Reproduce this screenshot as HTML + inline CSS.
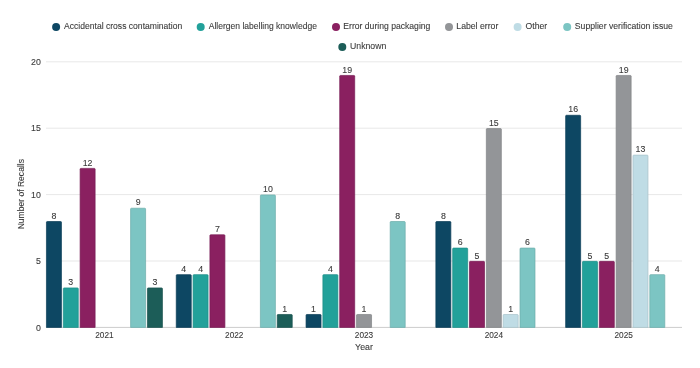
<!DOCTYPE html><html><head><meta charset="utf-8"><style>html,body{margin:0;padding:0;background:#fff;}svg{display:block;will-change:transform;}text{font-family:"Liberation Sans",sans-serif;stroke:#3a3a3a;stroke-width:0.1px;}</style></head><body>
<svg width="700" height="368" viewBox="0 0 700 368">
<rect x="46" y="260.50" width="636" height="1" fill="#e8e8e8"/>
<text x="40.8" y="264.10" font-size="8.8" fill="#3a3a3a" text-anchor="end">5</text>
<rect x="46" y="194.10" width="636" height="1" fill="#e8e8e8"/>
<text x="40.8" y="197.70" font-size="8.8" fill="#3a3a3a" text-anchor="end">10</text>
<rect x="46" y="127.70" width="636" height="1" fill="#e8e8e8"/>
<text x="40.8" y="131.30" font-size="8.8" fill="#3a3a3a" text-anchor="end">15</text>
<rect x="46" y="61.30" width="636" height="1" fill="#e8e8e8"/>
<text x="40.8" y="64.90" font-size="8.8" fill="#3a3a3a" text-anchor="end">20</text>
<text x="40.8" y="330.50" font-size="8.8" fill="#3a3a3a" text-anchor="end">0</text>
<rect x="46" y="326.90" width="636" height="1" fill="#cccccc"/>
<path d="M46.45 327.45V222.31Q46.45 221.51 47.25 221.51H60.65Q61.45 221.51 61.45 222.31V327.45Z" fill="#0d4763" stroke="#0b3e57" stroke-width="0.7"/>
<text x="53.95" y="218.66" font-size="8.8" fill="#3a3a3a" text-anchor="middle">8</text>
<path d="M63.28 327.45V288.71Q63.28 287.91 64.08 287.91H77.48Q78.28 287.91 78.28 288.71V327.45Z" fill="#22a19a" stroke="#1d8d87" stroke-width="0.7"/>
<text x="70.78" y="285.06" font-size="8.8" fill="#3a3a3a" text-anchor="middle">3</text>
<path d="M80.11 327.45V169.19Q80.11 168.39 80.91 168.39H94.31Q95.11 168.39 95.11 169.19V327.45Z" fill="#8a2060" stroke="#791c54" stroke-width="0.7"/>
<text x="87.61" y="165.54" font-size="8.8" fill="#3a3a3a" text-anchor="middle">12</text>
<path d="M130.60 327.45V209.03Q130.60 208.23 131.40 208.23H144.80Q145.60 208.23 145.60 209.03V327.45Z" fill="#7cc5c3" stroke="#6dadab" stroke-width="0.7"/>
<text x="138.10" y="205.38" font-size="8.8" fill="#3a3a3a" text-anchor="middle">9</text>
<path d="M147.43 327.45V288.71Q147.43 287.91 148.23 287.91H161.63Q162.43 287.91 162.43 288.71V327.45Z" fill="#1c5d58" stroke="#18514d" stroke-width="0.7"/>
<text x="154.93" y="285.06" font-size="8.8" fill="#3a3a3a" text-anchor="middle">3</text>
<text x="104.44" y="338.2" font-size="8.8" fill="#3a3a3a" text-anchor="middle" textLength="18.4" lengthAdjust="spacingAndGlyphs">2021</text>
<path d="M176.25 327.45V275.43Q176.25 274.63 177.05 274.63H190.45Q191.25 274.63 191.25 275.43V327.45Z" fill="#0d4763" stroke="#0b3e57" stroke-width="0.7"/>
<text x="183.75" y="271.78" font-size="8.8" fill="#3a3a3a" text-anchor="middle">4</text>
<path d="M193.08 327.45V275.43Q193.08 274.63 193.88 274.63H207.28Q208.08 274.63 208.08 275.43V327.45Z" fill="#22a19a" stroke="#1d8d87" stroke-width="0.7"/>
<text x="200.58" y="271.78" font-size="8.8" fill="#3a3a3a" text-anchor="middle">4</text>
<path d="M209.91 327.45V235.59Q209.91 234.79 210.71 234.79H224.11Q224.91 234.79 224.91 235.59V327.45Z" fill="#8a2060" stroke="#791c54" stroke-width="0.7"/>
<text x="217.41" y="231.94" font-size="8.8" fill="#3a3a3a" text-anchor="middle">7</text>
<path d="M260.40 327.45V195.75Q260.40 194.95 261.20 194.95H274.60Q275.40 194.95 275.40 195.75V327.45Z" fill="#7cc5c3" stroke="#6dadab" stroke-width="0.7"/>
<text x="267.90" y="192.10" font-size="8.8" fill="#3a3a3a" text-anchor="middle">10</text>
<path d="M277.23 327.45V315.27Q277.23 314.47 278.03 314.47H291.43Q292.23 314.47 292.23 315.27V327.45Z" fill="#1c5d58" stroke="#18514d" stroke-width="0.7"/>
<text x="284.73" y="311.62" font-size="8.8" fill="#3a3a3a" text-anchor="middle">1</text>
<text x="234.24" y="338.2" font-size="8.8" fill="#3a3a3a" text-anchor="middle" textLength="18.4" lengthAdjust="spacingAndGlyphs">2022</text>
<path d="M306.05 327.45V315.27Q306.05 314.47 306.85 314.47H320.25Q321.05 314.47 321.05 315.27V327.45Z" fill="#0d4763" stroke="#0b3e57" stroke-width="0.7"/>
<text x="313.55" y="311.62" font-size="8.8" fill="#3a3a3a" text-anchor="middle">1</text>
<path d="M322.88 327.45V275.43Q322.88 274.63 323.68 274.63H337.08Q337.88 274.63 337.88 275.43V327.45Z" fill="#22a19a" stroke="#1d8d87" stroke-width="0.7"/>
<text x="330.38" y="271.78" font-size="8.8" fill="#3a3a3a" text-anchor="middle">4</text>
<path d="M339.71 327.45V76.23Q339.71 75.43 340.51 75.43H353.91Q354.71 75.43 354.71 76.23V327.45Z" fill="#8a2060" stroke="#791c54" stroke-width="0.7"/>
<text x="347.21" y="72.58" font-size="8.8" fill="#3a3a3a" text-anchor="middle">19</text>
<path d="M356.54 327.45V315.27Q356.54 314.47 357.34 314.47H370.74Q371.54 314.47 371.54 315.27V327.45Z" fill="#939598" stroke="#818385" stroke-width="0.7"/>
<text x="364.04" y="311.62" font-size="8.8" fill="#3a3a3a" text-anchor="middle">1</text>
<path d="M390.20 327.45V222.31Q390.20 221.51 391.00 221.51H404.40Q405.20 221.51 405.20 222.31V327.45Z" fill="#7cc5c3" stroke="#6dadab" stroke-width="0.7"/>
<text x="397.70" y="218.66" font-size="8.8" fill="#3a3a3a" text-anchor="middle">8</text>
<text x="364.04" y="338.2" font-size="8.8" fill="#3a3a3a" text-anchor="middle" textLength="18.4" lengthAdjust="spacingAndGlyphs">2023</text>
<path d="M435.85 327.45V222.31Q435.85 221.51 436.65 221.51H450.05Q450.85 221.51 450.85 222.31V327.45Z" fill="#0d4763" stroke="#0b3e57" stroke-width="0.7"/>
<text x="443.35" y="218.66" font-size="8.8" fill="#3a3a3a" text-anchor="middle">8</text>
<path d="M452.68 327.45V248.87Q452.68 248.07 453.48 248.07H466.88Q467.68 248.07 467.68 248.87V327.45Z" fill="#22a19a" stroke="#1d8d87" stroke-width="0.7"/>
<text x="460.18" y="245.22" font-size="8.8" fill="#3a3a3a" text-anchor="middle">6</text>
<path d="M469.51 327.45V262.15Q469.51 261.35 470.31 261.35H483.71Q484.51 261.35 484.51 262.15V327.45Z" fill="#8a2060" stroke="#791c54" stroke-width="0.7"/>
<text x="477.01" y="258.50" font-size="8.8" fill="#3a3a3a" text-anchor="middle">5</text>
<path d="M486.34 327.45V129.35Q486.34 128.55 487.14 128.55H500.54Q501.34 128.55 501.34 129.35V327.45Z" fill="#939598" stroke="#818385" stroke-width="0.7"/>
<text x="493.84" y="125.70" font-size="8.8" fill="#3a3a3a" text-anchor="middle">15</text>
<path d="M503.17 327.45V315.27Q503.17 314.47 503.97 314.47H517.37Q518.17 314.47 518.17 315.27V327.45Z" fill="#bfdce5" stroke="#a8c1c9" stroke-width="0.7"/>
<text x="510.67" y="311.62" font-size="8.8" fill="#3a3a3a" text-anchor="middle">1</text>
<path d="M520.00 327.45V248.87Q520.00 248.07 520.80 248.07H534.20Q535.00 248.07 535.00 248.87V327.45Z" fill="#7cc5c3" stroke="#6dadab" stroke-width="0.7"/>
<text x="527.50" y="245.22" font-size="8.8" fill="#3a3a3a" text-anchor="middle">6</text>
<text x="493.84" y="338.2" font-size="8.8" fill="#3a3a3a" text-anchor="middle" textLength="18.4" lengthAdjust="spacingAndGlyphs">2024</text>
<path d="M565.65 327.45V116.07Q565.65 115.27 566.45 115.27H579.85Q580.65 115.27 580.65 116.07V327.45Z" fill="#0d4763" stroke="#0b3e57" stroke-width="0.7"/>
<text x="573.15" y="112.42" font-size="8.8" fill="#3a3a3a" text-anchor="middle">16</text>
<path d="M582.48 327.45V262.15Q582.48 261.35 583.28 261.35H596.68Q597.48 261.35 597.48 262.15V327.45Z" fill="#22a19a" stroke="#1d8d87" stroke-width="0.7"/>
<text x="589.98" y="258.50" font-size="8.8" fill="#3a3a3a" text-anchor="middle">5</text>
<path d="M599.31 327.45V262.15Q599.31 261.35 600.11 261.35H613.51Q614.31 261.35 614.31 262.15V327.45Z" fill="#8a2060" stroke="#791c54" stroke-width="0.7"/>
<text x="606.81" y="258.50" font-size="8.8" fill="#3a3a3a" text-anchor="middle">5</text>
<path d="M616.14 327.45V76.23Q616.14 75.43 616.94 75.43H630.34Q631.14 75.43 631.14 76.23V327.45Z" fill="#939598" stroke="#818385" stroke-width="0.7"/>
<text x="623.64" y="72.58" font-size="8.8" fill="#3a3a3a" text-anchor="middle">19</text>
<path d="M632.97 327.45V155.91Q632.97 155.11 633.77 155.11H647.17Q647.97 155.11 647.97 155.91V327.45Z" fill="#bfdce5" stroke="#a8c1c9" stroke-width="0.7"/>
<text x="640.47" y="152.26" font-size="8.8" fill="#3a3a3a" text-anchor="middle">13</text>
<path d="M649.80 327.45V275.43Q649.80 274.63 650.60 274.63H664.00Q664.80 274.63 664.80 275.43V327.45Z" fill="#7cc5c3" stroke="#6dadab" stroke-width="0.7"/>
<text x="657.30" y="271.78" font-size="8.8" fill="#3a3a3a" text-anchor="middle">4</text>
<text x="623.64" y="338.2" font-size="8.8" fill="#3a3a3a" text-anchor="middle" textLength="18.4" lengthAdjust="spacingAndGlyphs">2025</text>
<text x="364" y="349.9" font-size="8.8" fill="#3a3a3a" text-anchor="middle">Year</text>
<text transform="translate(24.2,194.2) rotate(-90)" x="0" y="0" font-size="8.8" fill="#3a3a3a" text-anchor="middle" textLength="70.3" lengthAdjust="spacingAndGlyphs">Number of Recalls</text>
<circle cx="56.1" cy="27" r="4" fill="#0d4763"/>
<text x="64.0" y="29.0" font-size="9.2" fill="#3a3a3a" textLength="118.2" lengthAdjust="spacingAndGlyphs">Accidental cross contamination</text>
<circle cx="200.7" cy="27" r="4" fill="#22a19a"/>
<text x="208.70000000000002" y="29.0" font-size="9.2" fill="#3a3a3a" textLength="108.2" lengthAdjust="spacingAndGlyphs">Allergen labelling knowledge</text>
<circle cx="336" cy="27" r="4" fill="#8a2060"/>
<text x="343.3" y="29.0" font-size="9.2" fill="#3a3a3a" textLength="87.1" lengthAdjust="spacingAndGlyphs">Error during packaging</text>
<circle cx="449" cy="27" r="4" fill="#939598"/>
<text x="456.3" y="29.0" font-size="9.2" fill="#3a3a3a" textLength="42.0" lengthAdjust="spacingAndGlyphs">Label error</text>
<circle cx="517.6" cy="27" r="4" fill="#bfdce5"/>
<text x="525.5" y="29.0" font-size="9.2" fill="#3a3a3a" textLength="21.7" lengthAdjust="spacingAndGlyphs">Other</text>
<circle cx="567.2" cy="27" r="4" fill="#7cc5c3"/>
<text x="574.8" y="29.0" font-size="9.2" fill="#3a3a3a" textLength="98.1" lengthAdjust="spacingAndGlyphs">Supplier verification issue</text>
<circle cx="342.3" cy="47" r="4" fill="#1c5d58"/>
<text x="350.1" y="49.0" font-size="9.2" fill="#3a3a3a" textLength="36.2" lengthAdjust="spacingAndGlyphs">Unknown</text>
</svg></body></html>
